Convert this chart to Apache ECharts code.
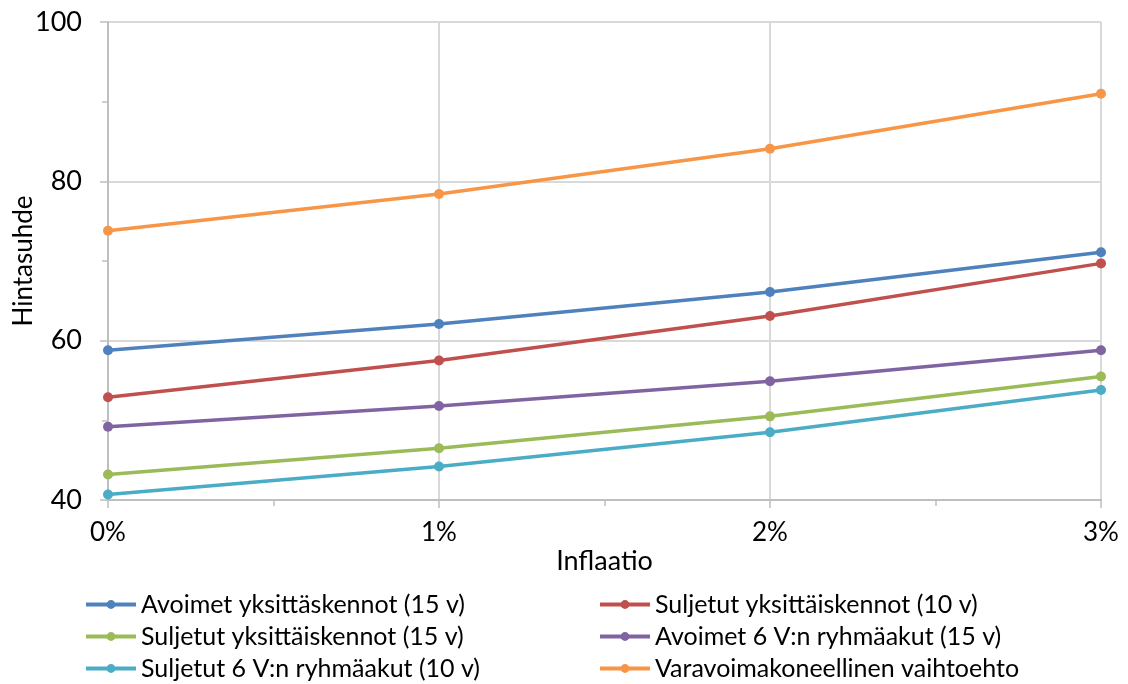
<!DOCTYPE html>
<html><head><meta charset="utf-8">
<script src="https://cdn.jsdelivr.net/npm/echarts@6/dist/echarts.min.js"></script>
<style>html,body{margin:0;padding:0;background:#fff}#c{width:1128px;height:684px}</style>
</head><body><div id="c"></div>
<script>
const xValues = [0, 1, 2, 3];
const seriesNames = [
  "Avoimet yksittäskennot (15 v)",
  "Suljetut yksittäiskennot (10 v)",
  "Suljetut yksittäiskennot (15 v)",
  "Avoimet 6 V:n ryhmäakut (15 v)",
  "Suljetut 6 V:n ryhmäakut (10 v)",
  "Varavoimakoneellinen vaihtoehto"
];
const avoimetYks15 = [58.8, 62.1, 66.1, 71.1];
const suljetutYks10 = [52.9, 57.5, 63.1, 69.7];
const suljetutYks15 = [43.2, 46.5, 50.5, 55.5];
const avoimetRyhma15 = [49.2, 51.8, 54.9, 58.8];
const suljetutRyhma10 = [40.7, 44.2, 48.5, 53.8];
const varavoima = [73.8, 78.4, 84.1, 91.0];
const seriesValues = [avoimetYks15, suljetutYks10, suljetutYks15, avoimetRyhma15, suljetutRyhma10, varavoima];
const colors = ["#4F81BD", "#C0504D", "#9BBB59", "#8064A2", "#4BACC6", "#F79646"];
const yTicks = [40, 60, 80, 100];

const FONT = "Lato";
const chart = echarts.init(document.getElementById('c'));
const legendCols = [84, 598];
const legendRowTops = [592, 624, 656];
const legends = seriesNames.map((n, i) => ({
  orient: 'horizontal',
  padding: 0,
  itemWidth: 50,
  itemHeight: 11,
  lineStyle: { width: 4 },
  textStyle: { fontFamily: FONT, fontSize: 25, lineHeight: 24, color: '#000' },
  left: legendCols[i % 2],
  top: legendRowTops[Math.floor(i / 2)],
  data: [n]
}));
chart.setOption({
  animation: false,
  textStyle: { fontFamily: FONT },
  grid: { left: 108, right: 27, top: 22, bottom: 184, containLabel: false, outerBoundsMode: 'none' },
  legend: legends,
  xAxis: {
    type: 'value', min: xValues[0], max: xValues[xValues.length - 1], interval: 1,
    name: 'Inflaatio', nameLocation: 'middle', nameGap: 48, nameMoveOverlap: false,
    nameTextStyle: { fontFamily: FONT, fontSize: 27, color: '#000' },
    axisLine: { show: true, lineStyle: { color: '#BFBFBF', width: 2 } },
    axisTick: { show: true, length: 8, lineStyle: { color: '#BFBFBF', width: 1.5 } },
    minorTick: { show: true, splitNumber: 2, length: 6, lineStyle: { color: '#BFBFBF', width: 1.5 } },
    axisLabel: { formatter: v => v + '%', fontFamily: FONT, fontSize: 26, color: '#000', margin: 20 },
    splitLine: { show: true, lineStyle: { color: '#D9D9D9', width: 2 } }
  },
  yAxis: {
    type: 'value', min: yTicks[0], max: yTicks[yTicks.length - 1], interval: 20,
    name: 'Hintasuhde', nameLocation: 'middle', nameGap: 71, nameRotate: 90, nameMoveOverlap: false,
    nameTextStyle: { fontFamily: FONT, fontSize: 26, color: '#000' },
    axisLine: { show: true, lineStyle: { color: '#BFBFBF', width: 2 } },
    axisTick: { show: true, length: 8, lineStyle: { color: '#BFBFBF', width: 1.5 } },
    minorTick: { show: true, splitNumber: 2, length: 6, lineStyle: { color: '#BFBFBF', width: 1.5 } },
    axisLabel: { fontFamily: FONT, fontSize: 27, color: '#000', margin: 26 },
    splitLine: { show: true, lineStyle: { color: '#D9D9D9', width: 2 } }
  },
  series: seriesNames.map((n, i) => ({
    name: n, type: 'line',
    data: xValues.map((x, j) => [x, seriesValues[i][j]]),
    symbol: 'circle', symbolSize: 10,
    lineStyle: { width: 3.5, color: colors[i] },
    itemStyle: { color: colors[i] },
    z: 10 - i
  }))
});
</script></body></html>
